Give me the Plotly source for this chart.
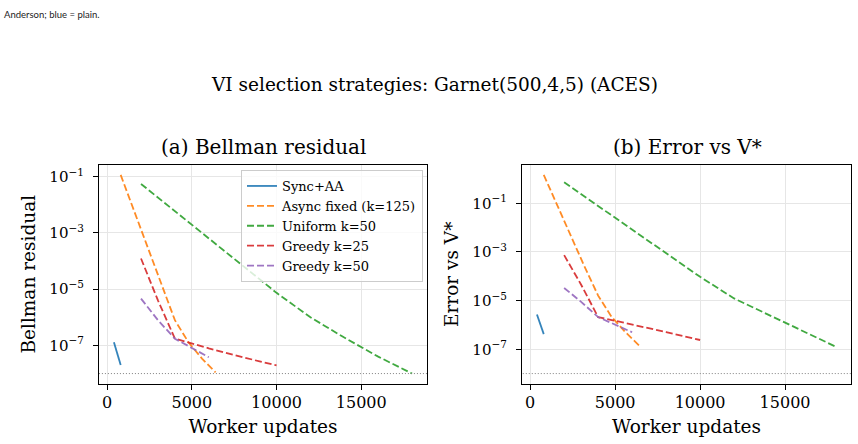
import plotly.graph_objects as go
import numpy as np

W, H = 858, 444

series_names = ["Sync+AA", "Async fixed (k=125)", "Uniform k=50", "Greedy k=25", "Greedy k=50"]
colors = ["#1f77b4", "#ff7f0e", "#2ca02c", "#d62728", "#9467bd"]
dashes = ["solid", "7px,3px", "7px,3px", "7px,3px", "7px,3px"]

# x values (worker updates)
sync_x = [400, 800]
async_x = [800, 1600, 2400, 3200, 4000, 4800, 5600, 6400]
uniform_x = [2000, 4000, 6000, 8000, 10000, 12000, 14000, 16000, 18000]
greedy25_x = [2000, 3000, 4000, 5000, 6000, 7000, 8000, 9000, 10000]
greedy50_x = [2000, 3000, 4000, 5000, 6000]

# (a) Bellman residual
sync_bell = [1.3e-7, 2.0e-8]
async_bell = [1.15e-1, 6.0e-3, 2.8e-4, 1.4e-5, 7.9e-7, 1.3e-7, 3.4e-8, 1.1e-8]
uniform_bell = [5.5e-2, 5.9e-3, 6.3e-4, 6.8e-5, 7.4e-6, 1.0e-6, 1.9e-7, 4.0e-8, 1.0e-8]
greedy25_bell = [1.23e-4, 4.0e-6, 1.74e-7, 1.15e-7, 7.9e-8, 5.5e-8, 3.8e-8, 2.7e-8, 1.95e-8]
greedy50_bell = [4.6e-6, 7.9e-7, 1.74e-7, 8.1e-8, 3.8e-8]

# (b) Error vs V*
sync_err = [2.7e-6, 4.2e-7]
async_err = [1.47, 7.9e-2, 4.5e-3, 2.5e-4, 1.6e-5, 2.1e-6, 5.1e-7, 1.45e-7]
uniform_err = [7.3e-1, 7.8e-2, 8.3e-3, 8.9e-4, 9.5e-5, 1.23e-5, 2.7e-6, 6.0e-7, 1.26e-7]
greedy25_err = [7.4e-4, 4.5e-5, 2.1e-6, 1.5e-6, 1.05e-6, 7.4e-7, 5.1e-7, 3.5e-7, 2.4e-7]
greedy50_err = [3.3e-5, 8.9e-6, 2.1e-6, 1.05e-6, 5.0e-7]

tolerance = 1e-8

xtick_vals = [0, 5000, 10000, 15000]
ytick_exps = [-1, -3, -5, -7]

xs = [sync_x, async_x, uniform_x, greedy25_x, greedy50_x]
bell = [sync_bell, async_bell, uniform_bell, greedy25_bell, greedy50_bell]
err = [sync_err, async_err, uniform_err, greedy25_err, greedy50_err]

FONT = "DejaVu Serif"

fig = go.Figure()

for panel, (data, xa, ya) in enumerate([(bell, "x", "y"), (err, "x2", "y2")]):
    for i in range(5):
        fig.add_trace(go.Scatter(
            x=xs[i], y=data[i], mode="lines", name=series_names[i],
            line=dict(color=colors[i], width=1.8, dash=dashes[i]),
            opacity=0.9, showlegend=(panel == 0), xaxis=xa, yaxis=ya,
        ))
    fig.add_trace(go.Scatter(
        x=[-1e5, 1e5], y=[tolerance, tolerance], mode="lines",
        line=dict(color="#808080", width=1, dash="1px,2px"),
        showlegend=False, xaxis=xa, yaxis=ya, hoverinfo="skip",
    ))

all_x = [v for s in xs for v in s]
xmin, xmax = min(all_x), max(all_x)
xpad = 0.05 * (xmax - xmin)
xr = [xmin - xpad, xmax + xpad]

def yrange(data):
    vals = [v for s in data for v in s] + [tolerance]
    lo, hi = np.log10(min(vals)), np.log10(max(vals))
    pad = 0.05 * (hi - lo)
    return [lo - pad, hi + pad]

ticktext = ["10<sup>\u2212%d</sup>" % (-e) for e in ytick_exps]
tickvals = [10.0 ** e for e in ytick_exps]

LABEL = dict(family=FONT, size=18.5, color="black")
XTICK = dict(family=FONT, size=16, color="black")
YTICK = dict(family=FONT, size=15, color="black")

common_x = dict(
    range=xr, tickvals=xtick_vals, ticktext=[str(v) for v in xtick_vals],
    showgrid=True, gridcolor="#e6e6e6", gridwidth=1,
    showline=True, linecolor="black", linewidth=1.1, mirror=True,
    ticks="outside", ticklen=5, tickcolor="black", tickwidth=1,
    tickfont=XTICK, zeroline=False, ticklabelstandoff=-1,
    title=dict(text="Worker updates", font=LABEL, standoff=9),
)
common_y = dict(
    type="log", tickvals=tickvals, ticktext=ticktext,
    showgrid=True, gridcolor="#e6e6e6", gridwidth=1,
    showline=True, linecolor="black", linewidth=1.1, mirror=True,
    ticks="outside", ticklen=5, tickcolor="black", tickwidth=1,
    tickfont=YTICK, zeroline=False, ticklabelstandoff=6,
)

ybot, ytop = 1 - 383.5 / H, 1 - 165 / H

fig.update_layout(
    width=W, height=H,
    margin=dict(l=0, r=0, t=0, b=0),
    paper_bgcolor="white", plot_bgcolor="white",
    xaxis=dict(domain=[99 / W, 427 / W], anchor="y", **common_x),
    yaxis=dict(domain=[ybot, ytop], anchor="x", range=yrange(bell),
               title=dict(text="Bellman residual", font=LABEL, standoff=8),
               **common_y),
    xaxis2=dict(domain=[522 / W, 851 / W], anchor="y2", **common_x),
    yaxis2=dict(domain=[ybot, ytop], anchor="x2", range=yrange(err),
                title=dict(text="Error vs V*", font=LABEL, standoff=8),
                **common_y),
    legend=dict(
        x=241 / W, y=1 - 170 / H, xanchor="left", yanchor="top",
        bgcolor="rgba(255,255,255,0.8)", bordercolor="#cccccc", borderwidth=1,
        font=dict(family=FONT, size=13, color="black"),
        itemwidth=30, tracegroupgap=0,
    ),
    showlegend=True,
)

annotations = [
    dict(text="VI selection strategies: Garnet(500,4,5) (ACES)", x=434 / W, y=1 - 84 / H,
         xref="paper", yref="paper", showarrow=False, xanchor="center", yanchor="middle",
         font=dict(family=FONT, size=18.5, color="black")),
    dict(text="(a) Bellman residual", x=263 / W, y=1 - 147 / H,
         xref="paper", yref="paper", showarrow=False, xanchor="center", yanchor="middle",
         font=dict(family=FONT, size=20, color="black")),
    dict(text="(b) Error vs V*", x=687 / W, y=1 - 147 / H,
         xref="paper", yref="paper", showarrow=False, xanchor="center", yanchor="middle",
         font=dict(family=FONT, size=20, color="black")),
    dict(text="Anderson; blue = plain.", x=2 / W, y=1 - 14 / H,
         xref="paper", yref="paper", showarrow=False, xanchor="left", yanchor="middle",
         font=dict(family="Lato", size=9.5, color="#222222")),
]
fig.update_layout(annotations=annotations)

fig.write_html("out.html")
